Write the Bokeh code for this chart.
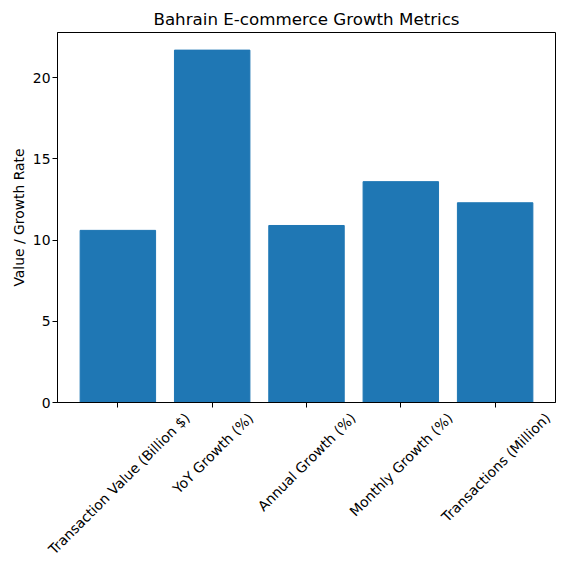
import math

from bokeh.embed import file_html
from bokeh.models import (FixedTicker,
                          LinearAxis,
                          Range1d,
                          SingleIntervalTicker)
from bokeh.plotting import figure
from bokeh.resources import INLINE

METRICS = ["Transaction Value (Billion $)",
           "YoY Growth (%)",
           "Annual Growth (%)",
           "Monthly Growth (%)",
           "Transactions (Million)"]
VALUES = [10.6, 21.7, 10.9, 13.6, 12.3]

FONT = "DejaVu Sans"
LABEL_PX = 13.9
WIDTH, HEIGHT = 562, 568
BORDER_LEFT, BORDER_RIGHT = 57, 7

# DejaVu Sans advance widths (per 2048 em), used to hang the rotated
# labels centred under their ticks like matplotlib does
GLYPH_WIDTHS = {"T": 1251, "r": 842, "a": 1255, "n": 1298, "s": 1067,
                "c": 1126, "t": 803, "i": 569, "o": 1253, " ": 651,
                "V": 1401, "l": 569, "u": 1298, "e": 1260, "(": 799,
                ")": 799, "B": 1405, "$": 1303, "Y": 1251, "G": 1587,
                "w": 1675, "h": 1298, "%": 1946, "A": 1401, "M": 1767,
                "y": 1212, "m": 1995}


def text_width(text):
    return sum(GLYPH_WIDTHS.get(ch, 1250) for ch in text) / 2048 * LABEL_PX


def plot():
    positions = list(range(len(METRICS)))
    pad = 0.05 * (len(METRICS) - 1 + 0.8)
    x_start, x_end = -0.4 - pad, len(METRICS) - 0.6 + pad

    p = figure(width=WIDTH, height=HEIGHT,
               x_range=Range1d(x_start, x_end),
               y_range=Range1d(0, max(VALUES) * 1.05),
               title="Bahrain E-commerce Growth Metrics",
               output_backend="svg",
               toolbar_location=None,
               min_border_left=BORDER_LEFT,
               min_border_right=BORDER_RIGHT,
               min_border_top=32,
               min_border_bottom=166)

    p.vbar(x=positions, top=VALUES, width=0.8, color="#1f77b4")

    p.title.align = "center"
    p.title.text_font = FONT
    p.title.text_font_size = "16.7px"
    p.title.text_font_style = "normal"
    p.title.text_color = "black"
    p.title.standoff = 8

    p.xgrid.visible = False
    p.ygrid.visible = False
    p.outline_line_color = "black"
    p.outline_line_alpha = 1

    for axis in (p.xaxis, p.yaxis):
        axis.axis_line_color = "black"
        axis.major_tick_line_color = "black"
        axis.major_tick_out = 5
        axis.major_tick_in = 0
        axis.minor_tick_line_color = None
        axis.major_label_text_font = FONT
        axis.major_label_text_font_size = f"{LABEL_PX}px"
        axis.major_label_text_color = "black"

    # bottom axis: tick marks only
    p.xaxis.ticker = FixedTicker(ticks=positions)
    p.xaxis.major_label_overrides = {i: "" for i in positions}
    p.xaxis.major_label_text_font_size = "0px"
    p.xaxis.major_label_standoff = 0

    # second bottom axis carries the rotated names; Bokeh ends a rotated
    # label at its tick, matplotlib centres it, so shift each tick right
    px_per_unit = (WIDTH - BORDER_LEFT - BORDER_RIGHT) / (x_end - x_start)
    shifted = [round(x + math.sin(math.pi / 4) * text_width(m) / 2
                     / px_per_unit, 4)
               for x, m in zip(positions, METRICS)]
    names = LinearAxis(ticker=FixedTicker(ticks=shifted),
                       major_label_overrides=dict(zip(shifted, METRICS)),
                       major_label_orientation=math.pi / 4,
                       major_label_standoff=8,
                       major_label_text_font=FONT,
                       major_label_text_font_size=f"{LABEL_PX}px",
                       major_label_text_color="black",
                       axis_line_color=None,
                       major_tick_line_color=None,
                       minor_tick_line_color=None,
                       major_tick_out=0,
                       major_tick_in=0)
    p.add_layout(names, "below")

    p.yaxis.ticker = SingleIntervalTicker(interval=5)
    p.yaxis.major_label_standoff = 2
    p.yaxis.axis_label = "Value / Growth Rate"
    p.yaxis.axis_label_text_font = FONT
    p.yaxis.axis_label_text_font_size = f"{LABEL_PX}px"
    p.yaxis.axis_label_text_font_style = "normal"
    p.yaxis.axis_label_text_color = "black"
    p.yaxis.axis_label_standoff = 3

    open("out.html", "w").write(file_html(p, INLINE))


plot()
